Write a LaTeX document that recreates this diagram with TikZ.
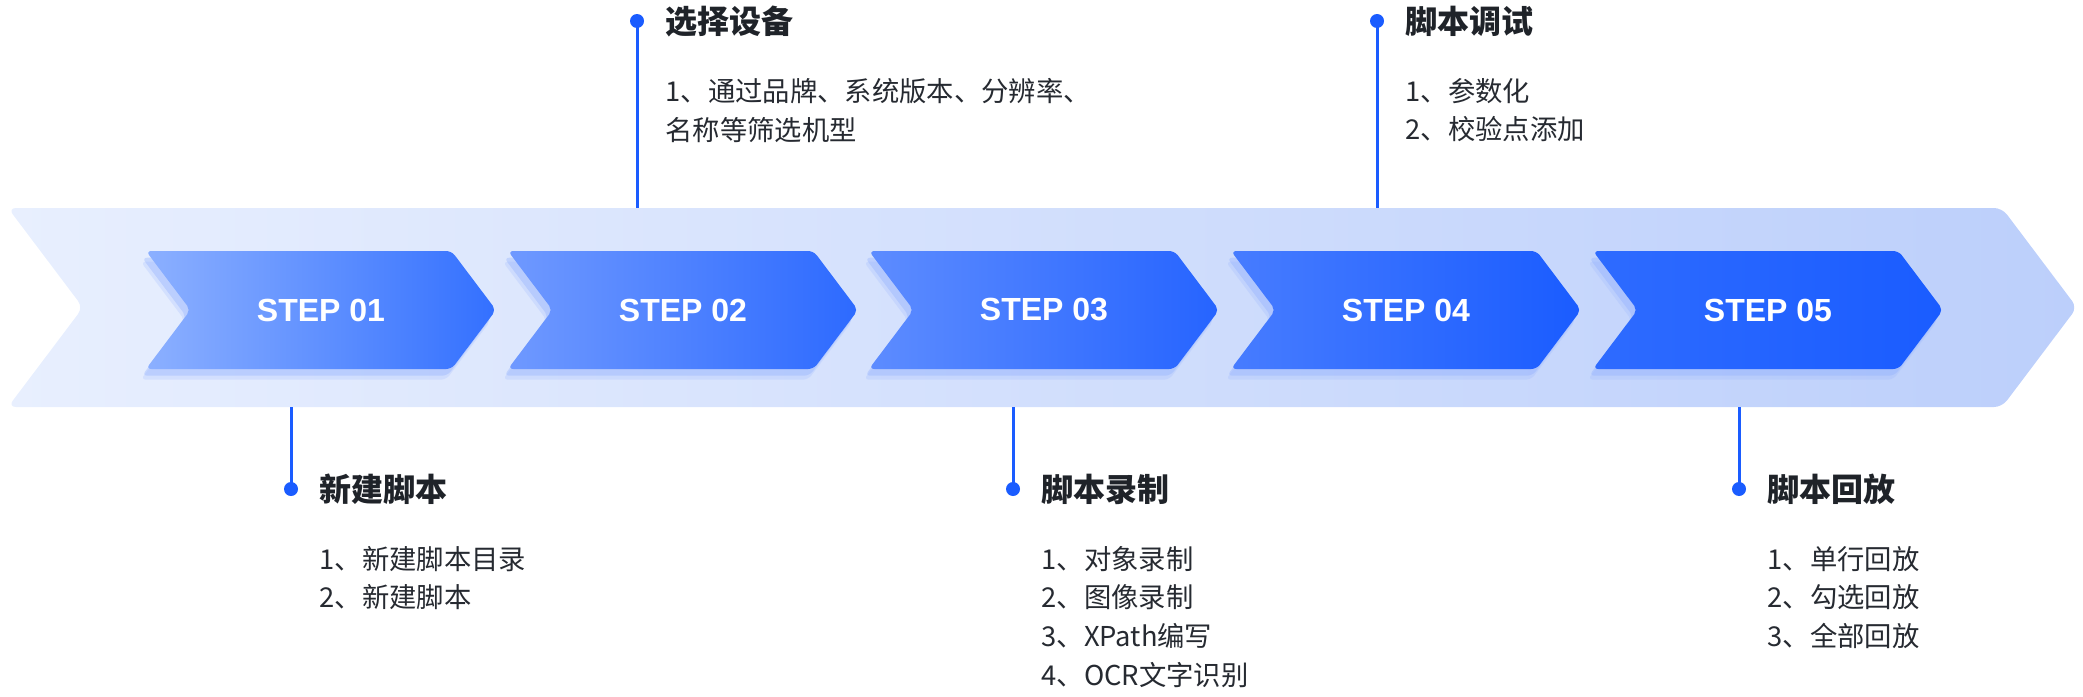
\documentclass[tikz,border=0pt]{standalone}
\usepackage{fontspec}
\setmainfont{Noto Sans CJK SC}
\newfontfamily\stepfont{Liberation Sans}
\usepackage{xcolor}
\usetikzlibrary{shapes.symbols,shadows,positioning}

\definecolor{bandL}{HTML}{E8EFFE}
\definecolor{bandR}{HTML}{BCCFFB}
\definecolor{stepAl}{HTML}{8CB0FF}
\definecolor{stepAr}{HTML}{3370FF}
\definecolor{stepBl}{HTML}{6F99FF}
\definecolor{stepBr}{HTML}{2D6AFF}
\definecolor{stepCl}{HTML}{5D8CFF}
\definecolor{stepCr}{HTML}{2664FF}
\definecolor{stepDl}{HTML}{477CFF}
\definecolor{stepDr}{HTML}{1A5CFF}
\definecolor{stepEl}{HTML}{2E6BFF}
\definecolor{stepEr}{HTML}{1A5CFF}
\definecolor{glow}{HTML}{8FAEFF}
\definecolor{linkblue}{HTML}{1A5CFF}
\definecolor{inktext}{HTML}{1F2329}
\definecolor{itemtext}{HTML}{262A31}

\begin{document}
\begin{tikzpicture}[x=0.75pt, y=-0.75pt,
  band/.style={signal, signal from=west, signal to=east, signal pointer angle=106, rounded corners=6pt, draw=none, left color=bandL, right color=bandR, minimum width=1551.75pt, minimum height=149.25pt, inner sep=0pt},
  stepbox/.style={signal, signal from=west, signal to=east, signal pointer angle=106, rounded corners=4pt, draw=none, minimum width=262.5pt, minimum height=88.5pt, inner sep=0pt, text=white, font=\stepfont\bfseries\fontsize{24}{24}\selectfont,
    drop shadow={shadow xshift=-3pt, shadow yshift=-5pt, opacity=.35, fill=glow},
    drop shadow={shadow xshift=-4pt, shadow yshift=-8pt, opacity=.2, fill=glow}},
  dot/.style={circle, fill=linkblue, inner sep=0pt, minimum size=10.5pt},
  link/.style={linkblue, line width=2.25pt},
  ttl/.style={inner sep=0pt, text=inktext, font=\bfseries\fontsize{24}{24}\selectfont},
  itm/.style={inner sep=0pt, align=left, text=itemtext, font=\fontsize{20.5}{29}\selectfont}
]
\useasboundingbox (0,0) rectangle (2083,696);

% --- background band ---
\node[band] (band) at (1042.5,307.5) {};

% --- steps ---
\node[stepbox, left color=stepAl, right color=stepAr] (s1) at (321,310) {STEP 01};
\node[stepbox, left color=stepBl, right color=stepBr] (s2) at (683,310) {STEP 02};
\node[stepbox, left color=stepCl, right color=stepCr] (s3) at (1044,310) {STEP 03};
\node[stepbox, left color=stepDl, right color=stepDr] (s4) at (1406,310) {STEP 04};
\node[stepbox, left color=stepEl, right color=stepEr] (s5) at (1768,310) {STEP 05};

% --- callout dots ---
\node[dot] (d1) at (291,489) {};
\node[dot] (d2) at (637,21) {};
\node[dot] (d3) at (1013,489) {};
\node[dot] (d4) at (1377,21) {};
\node[dot] (d5) at (1739,489) {};

% --- callout lines ---
\draw[link] (d1.center) -- (d1 |- band.south);
\draw[link] (d2.center) -- (d2 |- band.north);
\draw[link] (d3.center) -- (d3 |- band.south);
\draw[link] (d4.center) -- (d4 |- band.north);
\draw[link] (d5.center) -- (d5 |- band.south);

% --- titles ---
\node[ttl, right=15.75pt of d1] (t1) {新建脚本};
\node[ttl, right=15.75pt of d2] (t2) {选择设备};
\node[ttl, right=15.75pt of d3] (t3) {脚本录制};
\node[ttl, right=15.75pt of d4] (t4) {脚本调试};
\node[ttl, right=15.75pt of d5] (t5) {脚本回放};

% --- item lists ---
\node[itm, below=31pt of t1.south west, anchor=north west] (l1) {1、新建脚本目录\\2、新建脚本};
\node[itm, below=31pt of t2.south west, anchor=north west] (l2) {1、通过品牌、系统版本、分辨率、\\名称等筛选机型};
\node[itm, below=31pt of t3.south west, anchor=north west] (l3) {1、对象录制\\2、图像录制\\3、XPath编写\\4、OCR文字识别};
\node[itm, below=31pt of t4.south west, anchor=north west] (l4) {1、参数化\\2、校验点添加};
\node[itm, below=31pt of t5.south west, anchor=north west] (l5) {1、单行回放\\2、勾选回放\\3、全部回放};
\end{tikzpicture}
\end{document}
